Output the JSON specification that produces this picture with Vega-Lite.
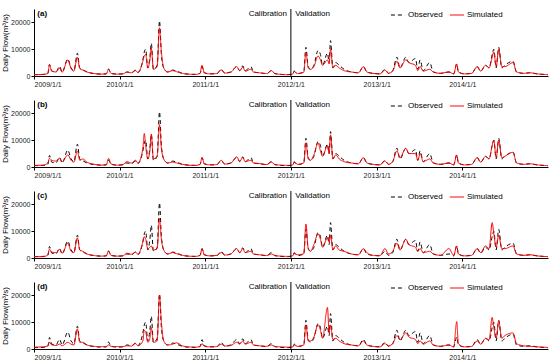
{
  "$schema": "https://vega.github.io/schema/vega-lite/v6.json",
  "padding": {"left": 1, "top": 7, "right": 2, "bottom": 0},
  "background": "white",
  "config": {
    "view": {"stroke": null},
    "font": "Liberation Sans",
    "axis": {"labelFont": "Liberation Sans", "titleFont": "Liberation Sans", "labelFontSize": 7, "titleFontSize": 8, "titleFontWeight": "normal", "grid": false, "domainColor": "#000", "tickColor": "#000", "labelColor": "#222", "tickSize": 3, "labelOverlap": false, "labelPadding": 2},
    "legend": {"labelFont": "Liberation Sans", "labelFontSize": 8}
  },
  "spacing": 11,
  "datasets": {
    "flow": [
      {"date": "2009-01-01", "obs": 500, "a": 500, "b": 600, "c": 500, "d": 700},
      {"date": "2009-02-10", "obs": 600, "a": 600, "b": 700, "c": 500, "d": 800},
      {"date": "2009-03-01", "obs": 1000, "a": 900, "b": 1500, "c": 1200, "d": 1200},
      {"date": "2009-03-08", "obs": 4300, "a": 4200, "b": 3200, "c": 3300, "d": 2500},
      {"date": "2009-03-18", "obs": 1800, "a": 1800, "b": 2500, "c": 2200, "d": 1500},
      {"date": "2009-04-05", "obs": 1600, "a": 1500, "b": 2200, "c": 2000, "d": 1300},
      {"date": "2009-04-20", "obs": 3600, "a": 3000, "b": 3300, "c": 3200, "d": 1800},
      {"date": "2009-05-01", "obs": 1500, "a": 1400, "b": 2000, "c": 1800, "d": 1200},
      {"date": "2009-05-25", "obs": 6300, "a": 6000, "b": 4500, "c": 5500, "d": 2500},
      {"date": "2009-06-08", "obs": 3000, "a": 2800, "b": 2500, "c": 2500, "d": 1800},
      {"date": "2009-06-20", "obs": 2000, "a": 1800, "b": 1800, "c": 2000, "d": 1500},
      {"date": "2009-07-05", "obs": 8500, "a": 7000, "b": 6000, "c": 7500, "d": 7500},
      {"date": "2009-07-15", "obs": 3000, "a": 2800, "b": 2500, "c": 3000, "d": 2500},
      {"date": "2009-07-28", "obs": 2300, "a": 2200, "b": 3000, "c": 2500, "d": 2500},
      {"date": "2009-08-15", "obs": 1500, "a": 1500, "b": 1800, "c": 1500, "d": 1500},
      {"date": "2009-09-15", "obs": 900, "a": 900, "b": 1000, "c": 900, "d": 1000},
      {"date": "2009-10-15", "obs": 700, "a": 700, "b": 700, "c": 700, "d": 900},
      {"date": "2009-11-05", "obs": 800, "a": 800, "b": 800, "c": 800, "d": 900},
      {"date": "2009-11-15", "obs": 2600, "a": 2500, "b": 3200, "c": 2600, "d": 1500},
      {"date": "2009-11-25", "obs": 1000, "a": 1000, "b": 1200, "c": 1000, "d": 1000},
      {"date": "2009-12-20", "obs": 700, "a": 700, "b": 700, "c": 700, "d": 900},
      {"date": "2010-01-15", "obs": 800, "a": 800, "b": 900, "c": 800, "d": 900},
      {"date": "2010-02-01", "obs": 1500, "a": 1400, "b": 2000, "c": 1800, "d": 1200},
      {"date": "2010-02-20", "obs": 1200, "a": 1200, "b": 1500, "c": 1400, "d": 1100},
      {"date": "2010-03-10", "obs": 2200, "a": 2000, "b": 2500, "c": 2200, "d": 2000},
      {"date": "2010-03-20", "obs": 1300, "a": 1300, "b": 1500, "c": 1400, "d": 1200},
      {"date": "2010-04-10", "obs": 6000, "a": 5500, "b": 7000, "c": 6000, "d": 3000},
      {"date": "2010-04-16", "obs": 8900, "a": 7500, "b": 12500, "c": 8000, "d": 7000},
      {"date": "2010-04-22", "obs": 10000, "a": 8000, "b": 8000, "c": 7000, "d": 6500},
      {"date": "2010-05-01", "obs": 3000, "a": 3000, "b": 3000, "c": 3500, "d": 2500},
      {"date": "2010-05-10", "obs": 7000, "a": 6000, "b": 6000, "c": 4000, "d": 4000},
      {"date": "2010-05-16", "obs": 12200, "a": 10500, "b": 12300, "c": 4500, "d": 8000},
      {"date": "2010-05-25", "obs": 2500, "a": 2500, "b": 3000, "c": 3000, "d": 2500},
      {"date": "2010-06-10", "obs": 4000, "a": 3500, "b": 4000, "c": 3500, "d": 3000},
      {"date": "2010-06-20", "obs": 20600, "a": 18000, "b": 15800, "c": 14800, "d": 20000},
      {"date": "2010-06-28", "obs": 8000, "a": 9000, "b": 7000, "c": 7000, "d": 10000},
      {"date": "2010-07-08", "obs": 3000, "a": 3000, "b": 3000, "c": 3000, "d": 3000},
      {"date": "2010-07-25", "obs": 1500, "a": 1500, "b": 1500, "c": 1500, "d": 1500},
      {"date": "2010-08-15", "obs": 2200, "a": 2000, "b": 1800, "c": 2000, "d": 1800},
      {"date": "2010-09-01", "obs": 1800, "a": 1600, "b": 1500, "c": 1600, "d": 2300},
      {"date": "2010-09-25", "obs": 1000, "a": 1000, "b": 1000, "c": 1000, "d": 1200},
      {"date": "2010-10-20", "obs": 700, "a": 700, "b": 700, "c": 700, "d": 800},
      {"date": "2010-11-20", "obs": 600, "a": 600, "b": 600, "c": 600, "d": 700},
      {"date": "2010-12-10", "obs": 1000, "a": 1000, "b": 1000, "c": 1000, "d": 900},
      {"date": "2010-12-18", "obs": 3500, "a": 4000, "b": 3500, "c": 3500, "d": 2000},
      {"date": "2010-12-28", "obs": 1200, "a": 1200, "b": 1200, "c": 1200, "d": 1000},
      {"date": "2011-01-20", "obs": 800, "a": 800, "b": 800, "c": 800, "d": 800},
      {"date": "2011-02-20", "obs": 900, "a": 900, "b": 900, "c": 1000, "d": 900},
      {"date": "2011-03-10", "obs": 2500, "a": 2300, "b": 2500, "c": 2000, "d": 1800},
      {"date": "2011-03-25", "obs": 1100, "a": 1100, "b": 1100, "c": 1100, "d": 1100},
      {"date": "2011-04-20", "obs": 1500, "a": 1400, "b": 1400, "c": 1500, "d": 1300},
      {"date": "2011-05-15", "obs": 3500, "a": 3500, "b": 3800, "c": 3500, "d": 2500},
      {"date": "2011-05-28", "obs": 2000, "a": 2000, "b": 2200, "c": 2000, "d": 1800},
      {"date": "2011-06-10", "obs": 3800, "a": 3300, "b": 3500, "c": 3500, "d": 3000},
      {"date": "2011-06-20", "obs": 2000, "a": 1800, "b": 2000, "c": 2000, "d": 1800},
      {"date": "2011-07-15", "obs": 3500, "a": 2500, "b": 2500, "c": 2500, "d": 2500},
      {"date": "2011-07-25", "obs": 1500, "a": 1500, "b": 1500, "c": 1500, "d": 1500},
      {"date": "2011-08-20", "obs": 1200, "a": 1200, "b": 1300, "c": 1200, "d": 1200},
      {"date": "2011-09-20", "obs": 900, "a": 900, "b": 900, "c": 900, "d": 1000},
      {"date": "2011-10-10", "obs": 2000, "a": 2000, "b": 1800, "c": 1500, "d": 1500},
      {"date": "2011-10-25", "obs": 900, "a": 900, "b": 900, "c": 900, "d": 900},
      {"date": "2011-11-20", "obs": 600, "a": 600, "b": 700, "c": 700, "d": 800},
      {"date": "2011-12-20", "obs": 500, "a": 500, "b": 600, "c": 600, "d": 700},
      {"date": "2012-01-10", "obs": 800, "a": 800, "b": 800, "c": 900, "d": 800},
      {"date": "2012-01-15", "obs": 1800, "a": 1800, "b": 2000, "c": 2000, "d": 1500},
      {"date": "2012-01-28", "obs": 900, "a": 900, "b": 1000, "c": 1200, "d": 1000},
      {"date": "2012-02-25", "obs": 1500, "a": 1400, "b": 1500, "c": 1600, "d": 1500},
      {"date": "2012-03-05", "obs": 10700, "a": 8900, "b": 9000, "c": 12700, "d": 9000},
      {"date": "2012-03-15", "obs": 3500, "a": 3000, "b": 3000, "c": 3500, "d": 3000},
      {"date": "2012-03-25", "obs": 2500, "a": 2500, "b": 2500, "c": 2500, "d": 3000},
      {"date": "2012-04-08", "obs": 4000, "a": 3500, "b": 4500, "c": 5000, "d": 4500},
      {"date": "2012-04-26", "obs": 9500, "a": 7500, "b": 9000, "c": 9000, "d": 9000},
      {"date": "2012-05-06", "obs": 8000, "a": 6000, "b": 6000, "c": 7000, "d": 7000},
      {"date": "2012-05-15", "obs": 4000, "a": 4000, "b": 4000, "c": 4000, "d": 4000},
      {"date": "2012-06-05", "obs": 8500, "a": 6000, "b": 8000, "c": 7500, "d": 15500},
      {"date": "2012-06-12", "obs": 5000, "a": 4500, "b": 5000, "c": 6000, "d": 6000},
      {"date": "2012-06-18", "obs": 13200, "a": 10100, "b": 12000, "c": 8500, "d": 9000},
      {"date": "2012-06-28", "obs": 3000, "a": 3000, "b": 3000, "c": 3000, "d": 3500},
      {"date": "2012-07-10", "obs": 5000, "a": 4000, "b": 4500, "c": 4500, "d": 4000},
      {"date": "2012-07-25", "obs": 4000, "a": 3000, "b": 3000, "c": 3000, "d": 3000},
      {"date": "2012-08-15", "obs": 2500, "a": 2000, "b": 2000, "c": 2500, "d": 2000},
      {"date": "2012-09-15", "obs": 1500, "a": 1500, "b": 1500, "c": 1500, "d": 1500},
      {"date": "2012-10-15", "obs": 1200, "a": 1200, "b": 1200, "c": 1200, "d": 1200},
      {"date": "2012-11-05", "obs": 3500, "a": 3500, "b": 3500, "c": 3500, "d": 3000},
      {"date": "2012-11-20", "obs": 1500, "a": 1500, "b": 1500, "c": 2000, "d": 1500},
      {"date": "2012-12-15", "obs": 1000, "a": 1000, "b": 1000, "c": 1000, "d": 1000},
      {"date": "2013-01-15", "obs": 800, "a": 800, "b": 800, "c": 900, "d": 800},
      {"date": "2013-02-05", "obs": 2500, "a": 2200, "b": 2200, "c": 3500, "d": 2000},
      {"date": "2013-02-20", "obs": 1000, "a": 1000, "b": 1000, "c": 1500, "d": 1200},
      {"date": "2013-03-10", "obs": 2000, "a": 1800, "b": 2000, "c": 2500, "d": 2000},
      {"date": "2013-03-28", "obs": 7000, "a": 5500, "b": 6000, "c": 5500, "d": 5000},
      {"date": "2013-04-10", "obs": 3000, "a": 3000, "b": 3500, "c": 3000, "d": 3500},
      {"date": "2013-05-05", "obs": 7000, "a": 6000, "b": 7000, "c": 7000, "d": 6000},
      {"date": "2013-05-18", "obs": 5000, "a": 5000, "b": 5000, "c": 5000, "d": 4500},
      {"date": "2013-06-15", "obs": 6500, "a": 4000, "b": 5000, "c": 4000, "d": 3500},
      {"date": "2013-06-25", "obs": 2500, "a": 2000, "b": 2500, "c": 2500, "d": 2000},
      {"date": "2013-07-05", "obs": 6000, "a": 3500, "b": 5000, "c": 3500, "d": 3000},
      {"date": "2013-07-18", "obs": 2000, "a": 1800, "b": 2000, "c": 2000, "d": 1800},
      {"date": "2013-08-15", "obs": 5000, "a": 2500, "b": 3000, "c": 2500, "d": 3000},
      {"date": "2013-08-30", "obs": 1500, "a": 1500, "b": 1500, "c": 1500, "d": 1500},
      {"date": "2013-09-30", "obs": 1000, "a": 1000, "b": 1000, "c": 1000, "d": 1000},
      {"date": "2013-11-05", "obs": 1500, "a": 1500, "b": 1500, "c": 3500, "d": 1500},
      {"date": "2013-11-25", "obs": 800, "a": 800, "b": 800, "c": 1000, "d": 800},
      {"date": "2013-12-08", "obs": 4500, "a": 4500, "b": 4500, "c": 4500, "d": 10200},
      {"date": "2013-12-15", "obs": 1500, "a": 1500, "b": 1500, "c": 1500, "d": 2000},
      {"date": "2014-01-10", "obs": 800, "a": 800, "b": 800, "c": 800, "d": 800},
      {"date": "2014-02-10", "obs": 1000, "a": 1000, "b": 1000, "c": 1000, "d": 1000},
      {"date": "2014-03-05", "obs": 3500, "a": 3500, "b": 3500, "c": 3500, "d": 3000},
      {"date": "2014-03-20", "obs": 1800, "a": 1800, "b": 1800, "c": 2000, "d": 1800},
      {"date": "2014-04-10", "obs": 4000, "a": 4000, "b": 4000, "c": 4500, "d": 4000},
      {"date": "2014-04-25", "obs": 3000, "a": 3000, "b": 3000, "c": 3500, "d": 3500},
      {"date": "2014-05-08", "obs": 8000, "a": 7000, "b": 8000, "c": 13200, "d": 11800},
      {"date": "2014-05-15", "obs": 10000, "a": 9000, "b": 10000, "c": 9000, "d": 8000},
      {"date": "2014-05-25", "obs": 3000, "a": 3500, "b": 3500, "c": 4000, "d": 4000},
      {"date": "2014-06-05", "obs": 10700, "a": 10000, "b": 10000, "c": 8500, "d": 10500},
      {"date": "2014-06-18", "obs": 3000, "a": 3500, "b": 3500, "c": 3500, "d": 4000},
      {"date": "2014-07-01", "obs": 4000, "a": 3500, "b": 4000, "c": 3500, "d": 5000},
      {"date": "2014-08-05", "obs": 5500, "a": 5000, "b": 5500, "c": 4500, "d": 6000},
      {"date": "2014-08-20", "obs": 1500, "a": 1500, "b": 1500, "c": 1500, "d": 2000},
      {"date": "2014-09-20", "obs": 1000, "a": 1000, "b": 1000, "c": 1000, "d": 1200},
      {"date": "2014-10-15", "obs": 1200, "a": 1200, "b": 1200, "c": 1200, "d": 1000},
      {"date": "2014-11-15", "obs": 800, "a": 800, "b": 800, "c": 800, "d": 800},
      {"date": "2014-12-31", "obs": 500, "a": 500, "b": 500, "c": 500, "d": 600}
    ]
  },
  "vconcat": [
    {"width": 514, "height": 67, "layer": [
      {"data": {"name": "flow"}, "mark": {"type": "line", "strokeWidth": 1, "interpolate": "monotone"}, "encoding": {
        "x": {"field": "date", "type": "temporal", "scale": {"domain": [{"year": 2009, "month": 1, "date": 1}, {"year": 2015, "month": 1, "date": 1}]}, "axis": {"title": null, "format": "%Y/%-m/%-d", "labelPadding": 1, "values": [{"year": 2009, "month": 1, "date": 1}, {"year": 2010, "month": 1, "date": 1}, {"year": 2011, "month": 1, "date": 1}, {"year": 2012, "month": 1, "date": 1}, {"year": 2013, "month": 1, "date": 1}, {"year": 2014, "month": 1, "date": 1}]}},
        "y": {"field": "obs", "type": "quantitative", "scale": {"domain": [0, 25000], "nice": false}, "axis": {"title": "Daily Flow(m³/s)", "tickCount": 3, "format": "d", "titlePadding": 1, "labelPadding": 1, "labelOverlap": false}},
        "color": {"datum": "Observed", "scale": {"domain": ["Observed", "Simulated"], "range": ["#000000", "#ff0000"]}, "legend": {"title": null, "orient": "none", "direction": "horizontal", "legendX": 356, "legendY": -2, "symbolType": "stroke", "symbolSize": 200, "symbolStrokeWidth": 1, "columnPadding": 4, "labelOffset": 2}},
        "strokeDash": {"datum": "Observed", "scale": {"domain": ["Observed", "Simulated"], "range": [[4, 3], [1, 0]]}, "legend": {"title": null, "orient": "none", "direction": "horizontal", "legendX": 356, "legendY": -2, "symbolType": "stroke", "symbolSize": 200, "symbolStrokeWidth": 1, "columnPadding": 4, "labelOffset": 2}}
      }},
      {"data": {"name": "flow"}, "mark": {"type": "line", "strokeWidth": 1, "interpolate": "monotone"}, "encoding": {
        "x": {"field": "date", "type": "temporal"},
        "y": {"field": "a", "type": "quantitative"},
        "color": {"datum": "Simulated"},
        "strokeDash": {"datum": "Simulated"}
      }},
      {"data": {"values": [{"label": "(a)"}]}, "layer": [
        {"mark": {"type": "rule", "color": "#000", "strokeWidth": 1}, "encoding": {"x": {"datum": {"year": 2012, "month": 1, "date": 1}, "type": "temporal"}}},
        {"mark": {"type": "text", "align": "left", "fontWeight": "bold", "fontSize": 8, "color": "#000"}, "encoding": {"x": {"datum": {"year": 2009, "month": 1, "date": 15}, "type": "temporal"}, "y": {"datum": 23300}, "text": {"field": "label"}}},
        {"mark": {"type": "text", "align": "right", "fontSize": 8, "color": "#000"}, "encoding": {"x": {"datum": {"year": 2011, "month": 12, "date": 15}, "type": "temporal"}, "y": {"datum": 23000}, "text": {"value": "Calibration"}}},
        {"mark": {"type": "text", "align": "left", "fontSize": 8, "color": "#000"}, "encoding": {"x": {"datum": {"year": 2012, "month": 1, "date": 20}, "type": "temporal"}, "y": {"datum": 23000}, "text": {"value": "Validation"}}}
      ]}
    ]},
    {"width": 514, "height": 67, "layer": [
      {"data": {"name": "flow"}, "mark": {"type": "line", "strokeWidth": 1, "interpolate": "monotone"}, "encoding": {
        "x": {"field": "date", "type": "temporal", "scale": {"domain": [{"year": 2009, "month": 1, "date": 1}, {"year": 2015, "month": 1, "date": 1}]}, "axis": {"title": null, "format": "%Y/%-m/%-d", "labelPadding": 1, "values": [{"year": 2009, "month": 1, "date": 1}, {"year": 2010, "month": 1, "date": 1}, {"year": 2011, "month": 1, "date": 1}, {"year": 2012, "month": 1, "date": 1}, {"year": 2013, "month": 1, "date": 1}, {"year": 2014, "month": 1, "date": 1}]}},
        "y": {"field": "obs", "type": "quantitative", "scale": {"domain": [0, 25000], "nice": false}, "axis": {"title": "Daily Flow(m³/s)", "tickCount": 3, "format": "d", "titlePadding": 1, "labelPadding": 1, "labelOverlap": false}},
        "color": {"datum": "Observed", "scale": {"domain": ["Observed", "Simulated"], "range": ["#000000", "#ff0000"]}, "legend": {"title": null, "orient": "none", "direction": "horizontal", "legendX": 356, "legendY": -2, "symbolType": "stroke", "symbolSize": 200, "symbolStrokeWidth": 1, "columnPadding": 4, "labelOffset": 2}},
        "strokeDash": {"datum": "Observed", "scale": {"domain": ["Observed", "Simulated"], "range": [[4, 3], [1, 0]]}, "legend": {"title": null, "orient": "none", "direction": "horizontal", "legendX": 356, "legendY": -2, "symbolType": "stroke", "symbolSize": 200, "symbolStrokeWidth": 1, "columnPadding": 4, "labelOffset": 2}}
      }},
      {"data": {"name": "flow"}, "mark": {"type": "line", "strokeWidth": 1, "interpolate": "monotone"}, "encoding": {
        "x": {"field": "date", "type": "temporal"},
        "y": {"field": "b", "type": "quantitative"},
        "color": {"datum": "Simulated"},
        "strokeDash": {"datum": "Simulated"}
      }},
      {"data": {"values": [{"label": "(b)"}]}, "layer": [
        {"mark": {"type": "rule", "color": "#000", "strokeWidth": 1}, "encoding": {"x": {"datum": {"year": 2012, "month": 1, "date": 1}, "type": "temporal"}}},
        {"mark": {"type": "text", "align": "left", "fontWeight": "bold", "fontSize": 8, "color": "#000"}, "encoding": {"x": {"datum": {"year": 2009, "month": 1, "date": 15}, "type": "temporal"}, "y": {"datum": 23300}, "text": {"field": "label"}}},
        {"mark": {"type": "text", "align": "right", "fontSize": 8, "color": "#000"}, "encoding": {"x": {"datum": {"year": 2011, "month": 12, "date": 15}, "type": "temporal"}, "y": {"datum": 23000}, "text": {"value": "Calibration"}}},
        {"mark": {"type": "text", "align": "left", "fontSize": 8, "color": "#000"}, "encoding": {"x": {"datum": {"year": 2012, "month": 1, "date": 20}, "type": "temporal"}, "y": {"datum": 23000}, "text": {"value": "Validation"}}}
      ]}
    ]},
    {"width": 514, "height": 67, "layer": [
      {"data": {"name": "flow"}, "mark": {"type": "line", "strokeWidth": 1, "interpolate": "monotone"}, "encoding": {
        "x": {"field": "date", "type": "temporal", "scale": {"domain": [{"year": 2009, "month": 1, "date": 1}, {"year": 2015, "month": 1, "date": 1}]}, "axis": {"title": null, "format": "%Y/%-m/%-d", "labelPadding": 1, "values": [{"year": 2009, "month": 1, "date": 1}, {"year": 2010, "month": 1, "date": 1}, {"year": 2011, "month": 1, "date": 1}, {"year": 2012, "month": 1, "date": 1}, {"year": 2013, "month": 1, "date": 1}, {"year": 2014, "month": 1, "date": 1}]}},
        "y": {"field": "obs", "type": "quantitative", "scale": {"domain": [0, 25000], "nice": false}, "axis": {"title": "Daily Flow(m³/s)", "tickCount": 3, "format": "d", "titlePadding": 1, "labelPadding": 1, "labelOverlap": false}},
        "color": {"datum": "Observed", "scale": {"domain": ["Observed", "Simulated"], "range": ["#000000", "#ff0000"]}, "legend": {"title": null, "orient": "none", "direction": "horizontal", "legendX": 356, "legendY": -2, "symbolType": "stroke", "symbolSize": 200, "symbolStrokeWidth": 1, "columnPadding": 4, "labelOffset": 2}},
        "strokeDash": {"datum": "Observed", "scale": {"domain": ["Observed", "Simulated"], "range": [[4, 3], [1, 0]]}, "legend": {"title": null, "orient": "none", "direction": "horizontal", "legendX": 356, "legendY": -2, "symbolType": "stroke", "symbolSize": 200, "symbolStrokeWidth": 1, "columnPadding": 4, "labelOffset": 2}}
      }},
      {"data": {"name": "flow"}, "mark": {"type": "line", "strokeWidth": 1, "interpolate": "monotone"}, "encoding": {
        "x": {"field": "date", "type": "temporal"},
        "y": {"field": "c", "type": "quantitative"},
        "color": {"datum": "Simulated"},
        "strokeDash": {"datum": "Simulated"}
      }},
      {"data": {"values": [{"label": "(c)"}]}, "layer": [
        {"mark": {"type": "rule", "color": "#000", "strokeWidth": 1}, "encoding": {"x": {"datum": {"year": 2012, "month": 1, "date": 1}, "type": "temporal"}}},
        {"mark": {"type": "text", "align": "left", "fontWeight": "bold", "fontSize": 8, "color": "#000"}, "encoding": {"x": {"datum": {"year": 2009, "month": 1, "date": 15}, "type": "temporal"}, "y": {"datum": 23300}, "text": {"field": "label"}}},
        {"mark": {"type": "text", "align": "right", "fontSize": 8, "color": "#000"}, "encoding": {"x": {"datum": {"year": 2011, "month": 12, "date": 15}, "type": "temporal"}, "y": {"datum": 23000}, "text": {"value": "Calibration"}}},
        {"mark": {"type": "text", "align": "left", "fontSize": 8, "color": "#000"}, "encoding": {"x": {"datum": {"year": 2012, "month": 1, "date": 20}, "type": "temporal"}, "y": {"datum": 23000}, "text": {"value": "Validation"}}}
      ]}
    ]},
    {"width": 514, "height": 67, "layer": [
      {"data": {"name": "flow"}, "mark": {"type": "line", "strokeWidth": 1, "interpolate": "monotone"}, "encoding": {
        "x": {"field": "date", "type": "temporal", "scale": {"domain": [{"year": 2009, "month": 1, "date": 1}, {"year": 2015, "month": 1, "date": 1}]}, "axis": {"title": null, "format": "%Y/%-m/%-d", "labelPadding": 1, "values": [{"year": 2009, "month": 1, "date": 1}, {"year": 2010, "month": 1, "date": 1}, {"year": 2011, "month": 1, "date": 1}, {"year": 2012, "month": 1, "date": 1}, {"year": 2013, "month": 1, "date": 1}, {"year": 2014, "month": 1, "date": 1}]}},
        "y": {"field": "obs", "type": "quantitative", "scale": {"domain": [0, 25000], "nice": false}, "axis": {"title": "Daily Flow(m³/s)", "tickCount": 3, "format": "d", "titlePadding": 1, "labelPadding": 1, "labelOverlap": false}},
        "color": {"datum": "Observed", "scale": {"domain": ["Observed", "Simulated"], "range": ["#000000", "#ff0000"]}, "legend": {"title": null, "orient": "none", "direction": "horizontal", "legendX": 356, "legendY": -2, "symbolType": "stroke", "symbolSize": 200, "symbolStrokeWidth": 1, "columnPadding": 4, "labelOffset": 2}},
        "strokeDash": {"datum": "Observed", "scale": {"domain": ["Observed", "Simulated"], "range": [[4, 3], [1, 0]]}, "legend": {"title": null, "orient": "none", "direction": "horizontal", "legendX": 356, "legendY": -2, "symbolType": "stroke", "symbolSize": 200, "symbolStrokeWidth": 1, "columnPadding": 4, "labelOffset": 2}}
      }},
      {"data": {"name": "flow"}, "mark": {"type": "line", "strokeWidth": 1, "interpolate": "monotone"}, "encoding": {
        "x": {"field": "date", "type": "temporal"},
        "y": {"field": "d", "type": "quantitative"},
        "color": {"datum": "Simulated"},
        "strokeDash": {"datum": "Simulated"}
      }},
      {"data": {"values": [{"label": "(d)"}]}, "layer": [
        {"mark": {"type": "rule", "color": "#000", "strokeWidth": 1}, "encoding": {"x": {"datum": {"year": 2012, "month": 1, "date": 1}, "type": "temporal"}}},
        {"mark": {"type": "text", "align": "left", "fontWeight": "bold", "fontSize": 8, "color": "#000"}, "encoding": {"x": {"datum": {"year": 2009, "month": 1, "date": 15}, "type": "temporal"}, "y": {"datum": 23300}, "text": {"field": "label"}}},
        {"mark": {"type": "text", "align": "right", "fontSize": 8, "color": "#000"}, "encoding": {"x": {"datum": {"year": 2011, "month": 12, "date": 15}, "type": "temporal"}, "y": {"datum": 23000}, "text": {"value": "Calibration"}}},
        {"mark": {"type": "text", "align": "left", "fontSize": 8, "color": "#000"}, "encoding": {"x": {"datum": {"year": 2012, "month": 1, "date": 20}, "type": "temporal"}, "y": {"datum": 23000}, "text": {"value": "Validation"}}}
      ]}
    ]}
  ],
  "resolve": {"scale": {"color": "independent", "strokeDash": "independent"}, "legend": {"color": "independent", "strokeDash": "independent"}}
}
